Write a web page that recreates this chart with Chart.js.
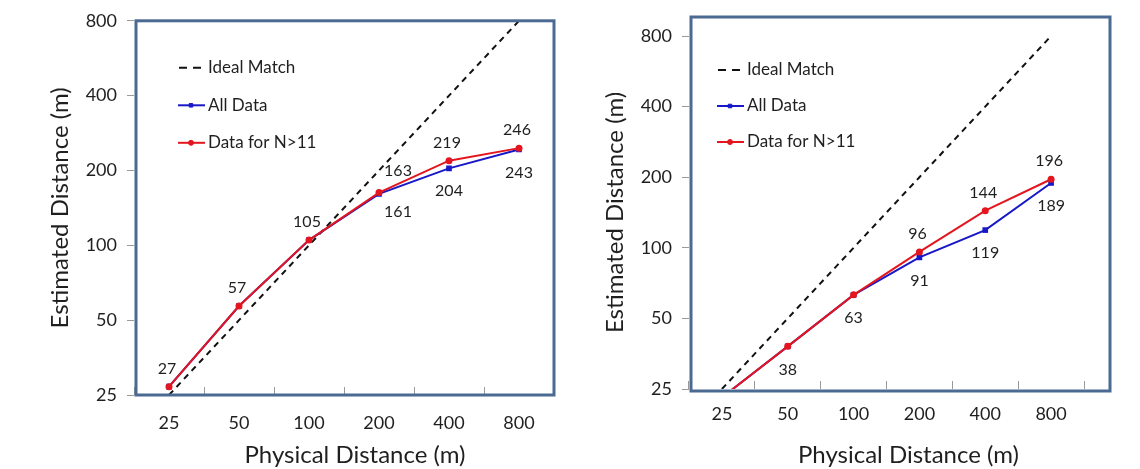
<!DOCTYPE html>
<html lang="en">
<head>
<meta charset="UTF-8" />
<title>Estimated vs physical distance</title>
<script src="https://cdn.jsdelivr.net/npm/chart.js"></script>
<style>
  body { margin: 0; background: #fff; }
  .box { position: absolute; top: 0; width: 570px; height: 469px; }
  #leftBox { left: 0; }
  #rightBox { left: 570px; }
</style>
</head>
<body>
<div class="box" id="leftBox"><canvas id="chart1"></canvas></div>
<div class="box" id="rightBox"><canvas id="chart2"></canvas></div>
<script>
const categories = ['25', '50', '100', '200', '400', '800'];
const yTicks = [25, 50, 100, 200, 400, 800];
const idealMatch = [25, 50, 100, 200, 400, 800];

const allDataLeft = [27, 57, 105, 161, 204, 243];
const nOver11Left = [27, 57, 105, 163, 219, 246];
const allDataRight = [23, 38, 63, 91, 119, 189];
const nOver11Right = [23, 38, 63, 96, 144, 196];

// where each value label sits (null = no label)
const labelsAllLeft = [null, null, null, 'belowRight', 'below', 'below'];
const labelsNLeft = ['above', 'above', 'above', 'aboveRight', 'above', 'above'];
const labelsAllRight = [null, null, null, 'below', 'below', 'below'];
const labelsNRight = [null, 'below', 'below', 'above', 'above', 'above'];

const FONT = 'Lato, "Open Sans", sans-serif';
const TEXT = '#1f1f1f';
const RED = '#e3161f';
const BLUE = '#1818c8';

const labelOffsets = {
  above: [-2, -18],
  below: [0, 23],
  aboveRight: [19, -22],
  belowRight: [19, 18],
};

// legend, value labels, frame and axis titles
const deco = {
  id: 'deco',
  afterDatasetsDraw(chart, args, o) {
    const ctx = chart.ctx;
    ctx.save();
    ctx.font = '16px ' + FONT;
    ctx.fillStyle = TEXT;
    ctx.textAlign = 'center';
    ctx.textBaseline = 'middle';
    chart.data.datasets.forEach((ds, i) => {
      if (!ds.valueLabels) return;
      const meta = chart.getDatasetMeta(i);
      meta.data.forEach((pt, j) => {
        const where = ds.valueLabels[j];
        if (!where || ds.data[j] < 25) return;
        const [dx, dy] = labelOffsets[where];
        ctx.fillText(String(ds.data[j]), pt.x + dx, pt.y + dy);
      });
    });
    ctx.restore();
  },
  afterDraw(chart, args, o) {
    const ctx = chart.ctx;
    const a = chart.chartArea;
    ctx.save();

    // plot frame
    ctx.strokeStyle = '#4b6a92';
    ctx.lineWidth = 3;
    ctx.strokeRect(a.left + o.frame[0], a.top + o.frame[1],
      a.right - a.left + o.frame[2] - o.frame[0],
      a.bottom - a.top + o.frame[3] - o.frame[1]);

    // legend
    ctx.font = '17px ' + FONT;
    ctx.textBaseline = 'middle';
    ctx.textAlign = 'left';
    chart.data.datasets.forEach((ds, i) => {
      const x = a.left + o.legend[0];
      const y = a.top + o.legend[1] + i * o.legend[2];
      ctx.strokeStyle = ds.borderColor;
      ctx.lineWidth = ds.borderWidth;
      ctx.setLineDash(ds.borderDash ? [8, 6] : []);
      ctx.beginPath();
      ctx.moveTo(ds.borderDash ? x + 1 : x, y);
      ctx.lineTo(ds.borderDash ? x + 23 : x + 27, y);
      ctx.stroke();
      ctx.setLineDash([]);
      if (ds.pointRadius > 0) {
        ctx.fillStyle = ds.pointBackgroundColor;
        ctx.strokeStyle = ds.pointBackgroundColor;
        ctx.lineWidth = 1;
        Chart.helpers.drawPoint(ctx, { pointStyle: ds.pointStyle, radius: 2.5, borderWidth: 1 }, x + 13, y);
      }
      ctx.fillStyle = TEXT;
      ctx.fillText(ds.label, x + 30, y);
    });

    // axis titles
    ctx.font = '24px ' + FONT;
    ctx.fillStyle = TEXT;
    ctx.textAlign = 'center';
    ctx.fillText('Physical Distance (m)', (a.left + a.right) / 2 + o.xTitle[0], o.xTitle[1]);
    ctx.translate(o.yTitle[0], (a.top + a.bottom) / 2 + o.yTitle[1]);
    ctx.rotate(-Math.PI / 2);
    ctx.fillText('Estimated Distance (m)', 0, 0);
    ctx.restore();
  }
};

function makeChart(id, allData, nData, allLabels, nLabels, L) {
  return new Chart(document.getElementById(id), {
    type: 'line',
    data: {
      labels: categories,
      datasets: [
        {
          label: 'Ideal Match',
          data: idealMatch,
          borderColor: '#111',
          borderWidth: 2,
          borderDash: [6, 5],
          pointRadius: 0,
          order: 3,
        },
        {
          label: 'All Data',
          data: allData,
          borderColor: BLUE,
          borderWidth: 2,
          pointStyle: 'rect',
          pointRadius: 4,
          pointBackgroundColor: BLUE,
          pointBorderColor: BLUE,
          pointBorderWidth: 0,
          valueLabels: allLabels,
          order: 2,
        },
        {
          label: 'Data for N>11',
          data: nData,
          borderColor: RED,
          borderWidth: 2,
          pointStyle: 'circle',
          pointRadius: 3.5,
          pointBackgroundColor: RED,
          pointBorderColor: RED,
          pointBorderWidth: 0,
          valueLabels: nLabels,
          order: 1,
        },
      ],
    },
    options: {
      responsive: true,
      maintainAspectRatio: false,
      animation: false,
      layout: { padding: L.padding },
      plugins: {
        legend: { display: false },
        tooltip: { enabled: false },
        deco: L.deco,
      },
      scales: {
        x: {
          type: 'category',
          offset: true,
          afterFit: (s) => { s.height = L.xHeight; },
          grid: { offset: true, drawOnChartArea: false, tickLength: -8, color: '#9a9a9a' },
          border: { display: false },
          ticks: { font: { family: FONT, size: 18 }, color: TEXT, padding: L.xPad },
        },
        y: {
          type: 'logarithmic',
          min: 25,
          max: 800,
          afterBuildTicks: (s) => { s.ticks = yTicks.map((v) => ({ value: v })); },
          afterFit: (s) => { s.width = L.yWidth; },
          grid: { drawOnChartArea: false, tickLength: 7, color: '#9a9a9a' },
          border: { display: false },
          ticks: {
            font: { family: FONT, size: 18 },
            color: TEXT,
            padding: 10,
            callback: (v) => String(v),
          },
        },
      },
    },
    plugins: [deco],
  });
}

makeChart('chart1', allDataLeft, nOver11Left, labelsAllLeft, labelsNLeft, {
  padding: { left: 0, right: 16, top: 20, bottom: 0 },
  yWidth: 134,
  xHeight: 74,
  xPad: 25,
  deco: { frame: [2, 0, 0, 0], legend: [44, 47, 37.5], xTitle: [11, 455], yTitle: [60, 0] },
});

makeChart('chart2', allDataRight, nOver11Right, labelsAllRight, labelsNRight, {
  padding: { left: 0, right: 56, top: 36, bottom: 0 },
  yWidth: 119,
  xHeight: 80,
  xPad: 22,
  deco: { frame: [2, -19, 26, 2], legend: [28, 34, 36], xTitle: [22, 455], yTitle: [45, 0] },
});
</script>
</body>
</html>
